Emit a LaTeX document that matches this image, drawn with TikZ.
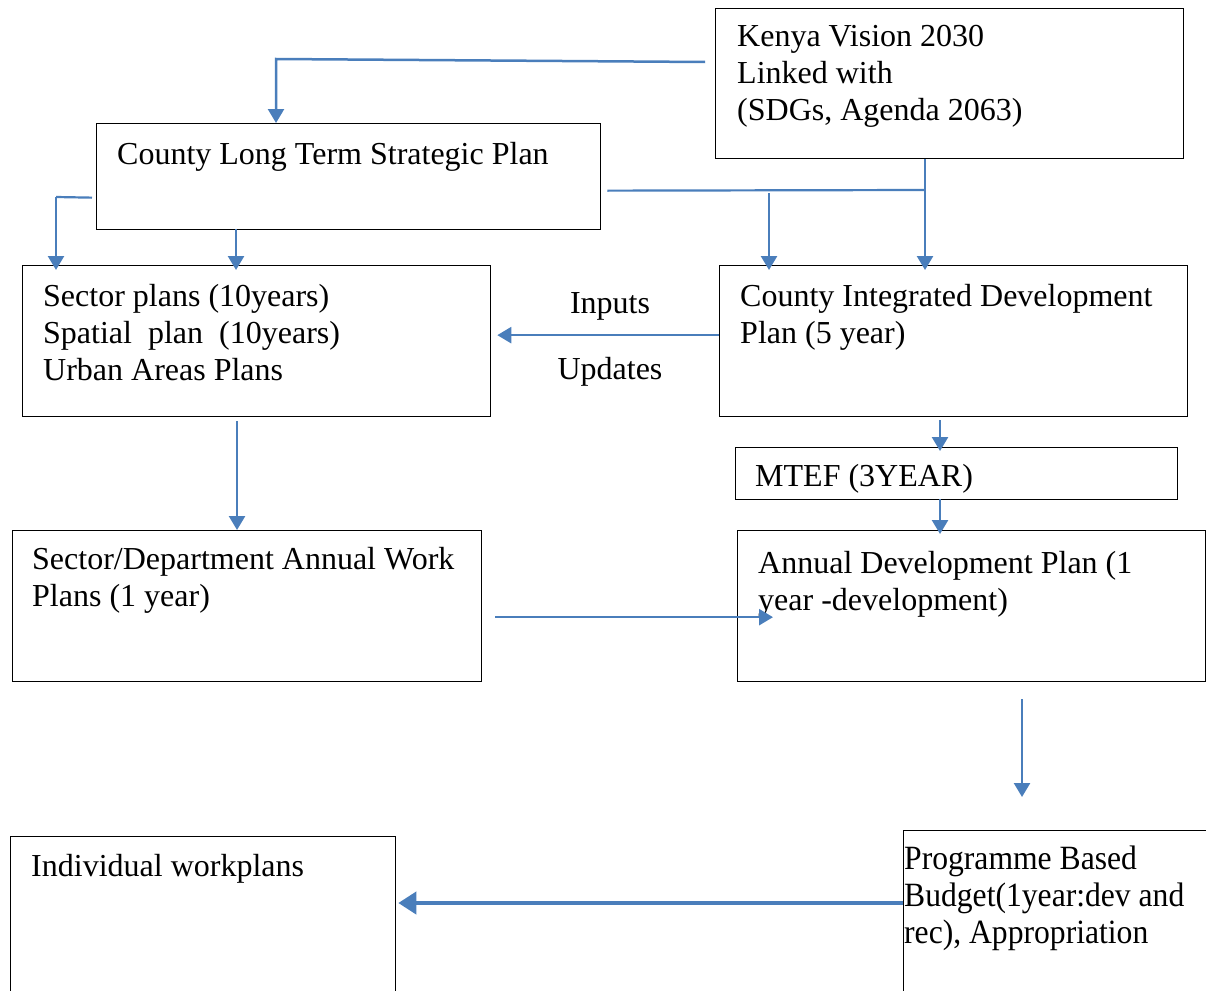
\documentclass[tikz,border=0pt]{standalone}
\usepackage{fontspec}
\setmainfont{Liberation Serif}
\usepackage{tikz}
\usetikzlibrary{
  calc,
  arrows.meta
}
\definecolor{flowblue}{RGB}{74,126,187}

\begin{document}
\begin{tikzpicture}[x=1pt, y=-1pt,
  box/.style = {draw, line width=1.3pt, anchor=north west, inner sep=0pt},
  txt/.style = {inner sep=0pt, anchor=north west, align=left,
                font=\fontsize{32}{37}\selectfont},
  flow/.style = {draw=flowblue, line width=2.5pt,
                 -{Triangle[width=16pt,length=14pt]}},
  link/.style = {draw=flowblue, line width=2.2pt}]
\useasboundingbox (0,0) rectangle (1206,990);

% boxes
\node[box, minimum width=468, minimum height=150] (kenya) at (715,8) {};
\node[box, minimum width=504, minimum height=106] (cltsp) at (96,123) {};
\node[box, minimum width=468, minimum height=151] (sector) at (22,265) {};
\node[box, minimum width=468, minimum height=151] (cidp) at (719,265) {};
\node[box, minimum width=442, minimum height=52] (mtef) at (735,447) {};
\node[box, minimum width=468, minimum height=151] (adp) at (737,530) {};
\node[box, minimum width=469, minimum height=151] (sdawp) at (12,530) {};
\node[box, minimum width=385, minimum height=170] (indiv) at (10,836) {};
\node[box, minimum width=320, minimum height=176] (pbb) at (903,830) {};

% texts
\node[txt] at (737,25) {Kenya Vision 2030\\Linked with\\(SDGs, Agenda 2063)};
\node[txt] at (117,142) {County Long Term Strategic Plan};
\node[txt] at (43,284) {Sector plans (10years)\\Spatial\ \ plan\ \ (10years)\\Urban Areas Plans};
\node[txt] at (740,284) {County Integrated Development\\Plan (5 year)};
\node[txt] at (755,464) {MTEF (3YEAR)};
\node[txt] at (758,551) {Annual Development Plan (1\\year -development)};
\node[txt] at (32,547) {Sector/Department Annual Work\\Plans (1 year)};
\node[txt] at (31,854) {Individual workplans};
\node[txt] at (904,846) {\scalebox{0.93}[1]{\fontsize{34}{37}\selectfont Programme Based}\\
  \scalebox{0.93}[1]{\fontsize{34}{37}\selectfont Budget(1year:dev and}\\
  \scalebox{0.93}[1]{\fontsize{34}{37}\selectfont rec), Appropriation}};
\node[txt, anchor=center] (inputs) at (610,306) {Inputs};
\node[txt, anchor=center] (updates) at (610,372) {Updates};

% connectors
\coordinate (kv) at (276,59);
\draw[flow] ($(kenya.north west)+(-10,54)$) -- (kv) -- (kv |- cltsp.north);

\coordinate (cl) at (56,197);
\draw[link] ($(cltsp.west)+(-4,21)$) -- (cl);
\draw[flow] (cl) -- ($(cl |- sector.north)+(0,5)$);
\draw[flow] (236,229) -- ($(236,229 |- sector.north)+(0,5)$);

\coordinate (cr) at (925,190);
\draw[link] ($(cltsp.east)+(6,14)$) -- (cr);
\draw[flow] (cr |- kenya.south) -- ($(cr |- cidp.north)+(0,5)$);
\draw[flow] (769,193) -- ($(769,193 |- cidp.north)+(0,5)$);

\draw[flow] ($(cidp.west)+(0,-6)$) -- ($(sector.east)+(6,-6)$);

\draw[flow] (940,420) -- ($(940,420 |- mtef.north)+(0,4)$);
\draw[flow] (940,499) -- ($(940,499 |- adp.north)+(0,4)$);

\draw[flow] (237,421) -- (237,421 |- sdawp.north);
\draw[flow] ($(sdawp.east)+(13,11)$) -- ($(adp.west)+(36,11)$);

\draw[flow] (1022,699) -- (1022,797);
\draw[draw=flowblue, line width=4pt, -{Triangle[width=22pt,length=18pt]}]
  (pbb.west |- 0,903) -- ($(indiv.east |- 0,903)+(2,0)$);

\end{tikzpicture}
\end{document}
